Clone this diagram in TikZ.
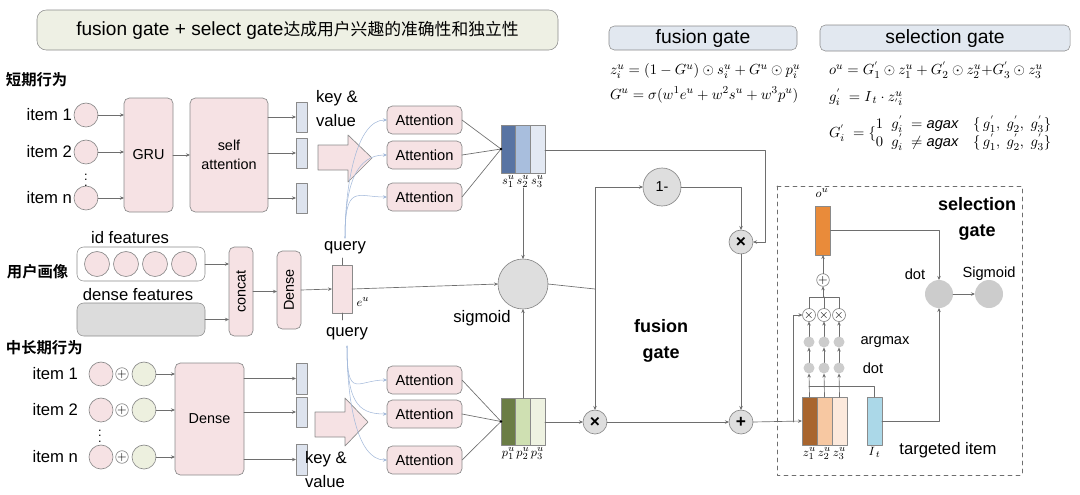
\documentclass[tikz,border=0pt]{standalone}
\usepackage{fontspec}
\usepackage{graphicx}
\setmainfont{Liberation Sans}
\newfontfamily\cjk{Noto Sans CJK SC}
\newfontfamily\cjkbold{Noto Sans CJK SC Bold}
\usetikzlibrary{arrows.meta}
\definecolor{lncol}{HTML}{6E6E6E}
\definecolor{bdcol}{HTML}{8A8A8A}
\definecolor{pinkf}{HTML}{F6E2E4}
\definecolor{barf}{HTML}{DDE3EE}
\definecolor{titlef}{HTML}{EEF0E4}
\definecolor{headf}{HTML}{E2E8F0}
\definecolor{sigf}{HTML}{DEDEDE}
\definecolor{grayf}{HTML}{DCDCDC}
\definecolor{greenf}{HTML}{EDF0DF}
\definecolor{qcol}{HTML}{A3B9DA}
\definecolor{sone}{HTML}{5874A3}
\definecolor{stwo}{HTML}{A8BEDD}
\definecolor{sthree}{HTML}{E3E9F3}
\definecolor{pone}{HTML}{6B7D45}
\definecolor{ptwo}{HTML}{CFE0B2}
\definecolor{pthree}{HTML}{EEF2E1}
\definecolor{zone}{HTML}{A8652E}
\definecolor{ztwo}{HTML}{F7C8A2}
\definecolor{zthree}{HTML}{FCE9DC}
\definecolor{ouf}{HTML}{E98B3A}
\definecolor{itf}{HTML}{ABD8E8}
\definecolor{dotf}{HTML}{CCCCCC}
\newcommand{\lblfont}{\fontsize{12.5}{18}\selectfont}
\newcommand{\boxfont}{\fontsize{10.8}{14}\selectfont}
\newcommand{\headfont}{\cjkbold\fontsize{11.5}{14}\selectfont}
\newcommand{\eqfont}{\fontsize{11}{13}\selectfont}
\newcommand{\vecfont}{\fontsize{9.5}{10}\selectfont}
\newcommand{\gatefont}{\bfseries\fontsize{13.5}{20}\selectfont}

\begin{document}
\begin{tikzpicture}[line cap=round,line join=round,>={Stealth[length=3pt,width=2.6pt]},x=0.75pt,y=-0.75pt,
  every node/.style={inner sep=0pt,outer sep=0pt},
  wh/.style 2 args={minimum width=#1*0.75pt,minimum height=#2*0.75pt},
  ln/.style={draw=lncol,line width=0.5pt},
  ar/.style={ln,->},
  qry/.style={draw=qcol,line width=0.4pt,->},
  pbox/.style={draw=bdcol,fill=pinkf,rounded corners=4pt,line width=0.5pt,font=\boxfont,align=center},
  bar/.style={draw=bdcol,fill=barf,line width=0.5pt},
  cell/.style={draw=bdcol,line width=0.5pt,wh={15}{48}},
  pcirc/.style={circle,draw=bdcol,fill=pinkf,line width=0.5pt,minimum size=24*0.75pt},
  gcirc/.style={circle,draw=bdcol,fill=sigf,line width=0.5pt},
  opcirc/.style={gcirc,minimum size=24*0.75pt,font=\bfseries\fontsize{13}{14}\selectfont},
  smallop/.style={circle,draw=bdcol,fill=white,line width=0.5pt,minimum size=12*0.75pt,font=\vecfont},
  dotc/.style={circle,fill=dotf,minimum size=11*0.75pt},
  headbox/.style={draw=bdcol,fill=headf,rounded corners=4pt,font=\fontsize{14.5}{16}\selectfont},
  bigarrow/.style={draw=bdcol,fill=pinkf,line width=0.5pt}]
\useasboundingbox (0,0) rectangle (1080,494);

% title and headers
\node[draw=bdcol,fill=titlef,rounded corners=7pt,wh={521}{40}] (title) at (297.5,30)
  {\fontsize{14.3}{16}\selectfont fusion gate + select gate{\cjk\fontsize{12.6}{16}\selectfont 达成用户兴趣的准确性和独立性}};
\node[headbox,wh={188}{24}] (fgh) at (703,38) {fusion gate};
\node[headbox,wh={250}{26}] (sgh) at (945,38) {selection gate};
\node[anchor=west,font=\eqfont] (eq1) at (610,71) {$z^u_i = (1-G^u)\odot s^u_i + G^u\odot p^u_i$};
\node[anchor=west,font=\eqfont] (eq2) at (610,95) {$G^u = \sigma(w^1 e^u + w^2 s^u + w^3 p^u)$};
\node[anchor=west,font=\eqfont] (eq3) at (829,70) {$o^u = G^{'}_1\odot z^u_1 + G^{'}_2\odot z^u_2{+}G^{'}_3\odot z^u_3$};
\node[anchor=west,font=\eqfont] (eq4) at (829,97) {$g^{'}_i\ = I_{\,t}\cdot z^{u}_{'i}$};
\node[anchor=west,font=\eqfont] (eq5) at (829,134) {$G^{'}_i\ = \{\begin{array}{@{}l@{}}
  1\ \ g^{'}_i\ = \mathit{agax}\quad \{\,g^{'}_1,\ g^{'}_2,\ g^{'}_3\}\\
  0\ \ g^{'}_i\ \neq \mathit{agax}\quad \{\,g^{'}_1,\ g^{'}_2,\ g^{'}_3\}\end{array}$};

% short term behaviour
\node[anchor=west,font=\headfont] (hshort) at (6,80) {短期行为};
\node[pbox,wh={49}{114}] (gru) at (148.5,155) {GRU};
\node[pbox,wh={78}{114}] (sa) at (229,155) {self\\attention};
\foreach \y/\t [count=\i] in {115/1,152/2,198/n}{
  \node[pcirc] (c\i) at (86,\y) {};
  \node[anchor=east,font=\lblfont] (it\i) at (72,\y) {item \t};
  \draw[ar] (c\i.east) -- (c\i.east -| gru.west);
}
\node (vd1) at (86,176) {\vecfont$\vdots$};
\draw[ar] (gru.east) -- (sa.west);
\node[bar,wh={11}{30}] (k1) at (301.5,117) {};
\node[bar,wh={11}{30}] (k2) at (301.5,153) {};
\node[bar,wh={11}{30}] (k3) at (301.5,198) {};
\foreach \i in {1,2,3} \draw[ar] (sa.east |- k\i) -- (k\i.west);
\node[anchor=west,align=left,font=\lblfont] (kv1) at (316,109) {key \&\\value};
\draw[bigarrow] (318,145) -- (348,145) -- (348,135) -- (372,158) -- (348,182) -- (348,170) -- (318,170) -- cycle;
\node[pbox,wh={75}{28},font=\fontsize{11}{13}\selectfont] (att1) at (424.5,120) {Attention};
\node[pbox,wh={75}{28},font=\fontsize{11}{13}\selectfont] (att2) at (424.5,155) {Attention};
\node[pbox,wh={75}{28},font=\fontsize{11}{13}\selectfont] (att3) at (424.5,197) {Attention};
\node[cell,fill=sone] (s1) at (508.5,149) {};
\node[cell,fill=stwo] (s2) at (523,149) {};
\node[cell,fill=sthree] (s3) at (537.5,149) {};
\foreach \i in {1,2,3}{
  \node[anchor=north,font=\vecfont] (s\i l) at ([yshift=-2pt]s\i.south) {$s^u_\i$};
  \draw[ln] (att\i.east) -- (s1.west);
}
\fill[black] (s1.west) circle (1.1pt);

% user profile
\node[anchor=west,font=\headfont] (hprof) at (7,272) {用户画像};
\node[font=\lblfont] (idl) at (130,238) {id features};
\node[draw=bdcol,fill=white,rounded corners=5pt,wh={128}{34}] (idb) at (141,264) {};
\foreach \x [count=\i] in {97,126,155,184} \node[pcirc,minimum size=25*0.75pt] (id\i) at (\x,264) {};
\node[font=\lblfont] (dfl) at (138,295) {dense features};
\node[draw=bdcol,fill=grayf,rounded corners=5pt,wh={128}{33}] (dfb) at (141,319.5) {};
\node[pbox,wh={24}{89}] (cat) at (241,291.5) {\rotatebox{90}{concat}};
\node[pbox,wh={24}{78}] (dns) at (289,290) {\rotatebox{90}{Dense}};
\node[draw=bdcol,fill=pinkf,line width=0.5pt,wh={20}{48}] (eu) at (342,289) {};
\node[font=\vecfont] (eul) at (363,302) {$e^u$};
\node[font=\lblfont] (q1) at (345,248) {query};
\node[font=\lblfont] (q2) at (347,334) {query};
\draw[ar] (idb.east) -- (idb.east -| cat.west);
\draw[ar] (dfb.east) -- (dfb.east -| cat.west);
\draw[ar] (cat.east) -- (cat.east -| dns.west);
\draw[ar] (dns.east) -- (eu.west);
\coordinate (qs1) at (342,258);
\coordinate (qs2) at (342,320);
\draw[ln] (eu.north) -- (qs1);
\draw[ln] (eu.south) -- (qs2);

% long term behaviour
\node[anchor=west,font=\headfont] (hlong) at (6,348) {中长期行为};
\node[pbox,wh={69}{112}] (ldn) at (209.5,419) {Dense};
\foreach \y/\t [count=\i] in {374/1,410/2,457/n}{
  \node[pcirc] (lc\i) at (101,\y) {};
  \node[smallop] (lp\i) at (122,\y) {$+$};
  \node[pcirc,fill=greenf] (lg\i) at (144,\y) {};
  \node[anchor=east,font=\lblfont] (lit\i) at (78,\y) {item \t};
  \draw[ar] (lg\i.east) -- (lg\i.east -| ldn.west);
}
\node (vd2) at (100,432) {\vecfont$\vdots$};
\node[bar,wh={11}{31}] (r1) at (301.5,378.5) {};
\node[bar,wh={11}{30}] (r2) at (301.5,412) {};
\node[bar,wh={11}{31}] (r3) at (301.5,459.5) {};
\foreach \i in {1,2,3} \draw[ar] (ldn.east |- r\i) -- (r\i.west);
\node[anchor=west,align=left,font=\lblfont] (kv2) at (305,470) {key \&\\value};
\draw[bigarrow] (315,412) -- (345,412) -- (345,398) -- (368,422) -- (345,446) -- (345,437) -- (315,437) -- cycle;
\node[pbox,wh={75}{28},font=\fontsize{11}{13}\selectfont] (att4) at (424.5,380) {Attention};
\node[pbox,wh={75}{28},font=\fontsize{11}{13}\selectfont] (att5) at (424.5,414) {Attention};
\node[pbox,wh={75}{28},font=\fontsize{11}{13}\selectfont] (att6) at (424.5,460) {Attention};
\node[cell,fill=pone,wh={15}{47}] (p1) at (508.5,421.5) {};
\node[cell,fill=ptwo,wh={15}{47}] (p2) at (523,421.5) {};
\node[cell,fill=pthree,wh={15}{47}] (p3) at (537.5,421.5) {};
\foreach \i in {1,2,3}
  \node[anchor=north,font=\vecfont] (p\i l) at ([yshift=-2pt]p\i.south) {$p^u_\i$};
\foreach \i in {4,5,6} \draw[ln] (att\i.east) -- (p1.west);
\fill[black] (p1.west) circle (1.1pt);

% queries
\coordinate (qt) at (345,238);
\coordinate (qb) at (347,346);
\foreach \i in {1,2,3} \draw[qry] (qt) .. controls +(0,-55) and +(-30,0) .. (att\i.west);
\foreach \i in {4,5,6} \draw[qry] (qb) .. controls +(0,55) and +(-30,0) .. (att\i.west);

% fusion gate
\node[gcirc,minimum size=50*0.75pt] (sig) at (523,284) {};
\node[font=\lblfont] (sigl) at (482,318) {sigmoid};
\node[gcirc,minimum size=38*0.75pt,font=\boxfont] (one) at (662,187) {1-};
\node[opcirc] (mulb) at (741,242) {×};
\node[opcirc] (mula) at (595,422) {×};
\node[opcirc] (plus) at (741,422) {+};
\node[font=\gatefont,align=center] (fg) at (661,341) {fusion\\gate};
\draw[ar] (eu.east) -- (sig.west);
\draw[ar] (s2l.south) -- (sig.north);
\draw[ar] (p2.north) -- (sig.south);
\coordinate (jn) at (595,289);
\coordinate (sturn) at (765,150);
\draw[ln] (sig.east) -- (jn);
\draw[ar] (jn) |- (one.west);
\draw[ar] (jn) -- (mula.north);
\draw[ar] (s3.east |- sturn) -- (sturn) |- (mulb.east);
\draw[ar] (one.east) -| (mulb.north);
\draw[ar] (mulb.south) -- (plus.north);
\draw[ar] (p3.east |- mula) -- (mula.west);
\draw[ar] (mula.east) -- (plus.west);

% selection gate
\draw[dashed,draw=lncol,line width=0.5pt] (777,186) rectangle (1022,475);
\node[font=\gatefont,align=center] (sgl) at (977,219) {selection\\gate};
\node[cell,fill=zone] (z1) at (809.5,421) {};
\node[cell,fill=ztwo] (z2) at (824.5,421) {};
\node[cell,fill=zthree] (z3) at (839.5,421) {};
\node[cell,fill=itf] (it) at (874.5,421) {};
\node[anchor=north,font=\vecfont] (itl) at ([yshift=-2pt]it.south) {$I_{\,t}$};
\node[draw=bdcol,fill=ouf,line width=0.5pt,wh={15}{49}] (ou) at (823,230.5) {};
\node[font=\vecfont] (oul) at (822,193) {$o^u$};
\node[smallop] (osum) at (823,280) {$+$};
\coordinate (xbar) at (823,297);
\coordinate (itj) at (809,386);
\foreach \x [count=\i] in {809,824,839}{
  \node[anchor=north,font=\vecfont] (z\i l) at ([yshift=-2pt]z\i.south) {$z^u_\i$};
  \node[dotc] (d\i) at (\x,368) {};
  \node[dotc] (a\i) at (\x,342) {};
  \node[smallop,minimum size=13*0.75pt] (x\i) at (\x,315) {$\times$};
  \draw[ar] (z\i.north) -- (d\i.south);
  \draw[ar] (d\i.north) -- (a\i.south);
  \draw[ar] (a\i.north) -- (x\i.south);
}
\draw[ln] (x1.north) |- (xbar) -| (x3.north);
\draw[ln] (x2.north) -- (x2.north |- xbar);
\draw[ar] (xbar) -- (osum.south);
\draw[ar] (osum.north) -- (ou.south);
\draw[ln] (it.north) |- (itj);
\node[font=\fontsize{11}{13}\selectfont] (argl) at (885,342) {argmax};
\node[font=\fontsize{11}{13}\selectfont] (dotl) at (873,368) {dot};
\node[gcirc,draw=none,fill=dotf,minimum size=28*0.75pt] (dotn) at (939,294) {};
\node[gcirc,draw=none,fill=dotf,minimum size=28*0.75pt] (sgm) at (989,294) {};
\node[font=\fontsize{11}{13}\selectfont] (dotnl) at (915,274) {dot};
\node[font=\fontsize{11}{13}\selectfont] (sgml) at (989,274) {Sigmoid};
\node[font=\lblfont] (tgl) at (948,450) {targeted item};
\draw[ar] (ou.east) -| (dotn.north);
\draw[ar] (it.east) -| (dotn.south);
\draw[ar] (dotn.east) -- (sgm.west);
\coordinate (zturn) at (793,422);
\draw[ar] (plus.east) -- (z1.west);
\draw[ar] (zturn) |- (x1.west);
\end{tikzpicture}
\end{document}
